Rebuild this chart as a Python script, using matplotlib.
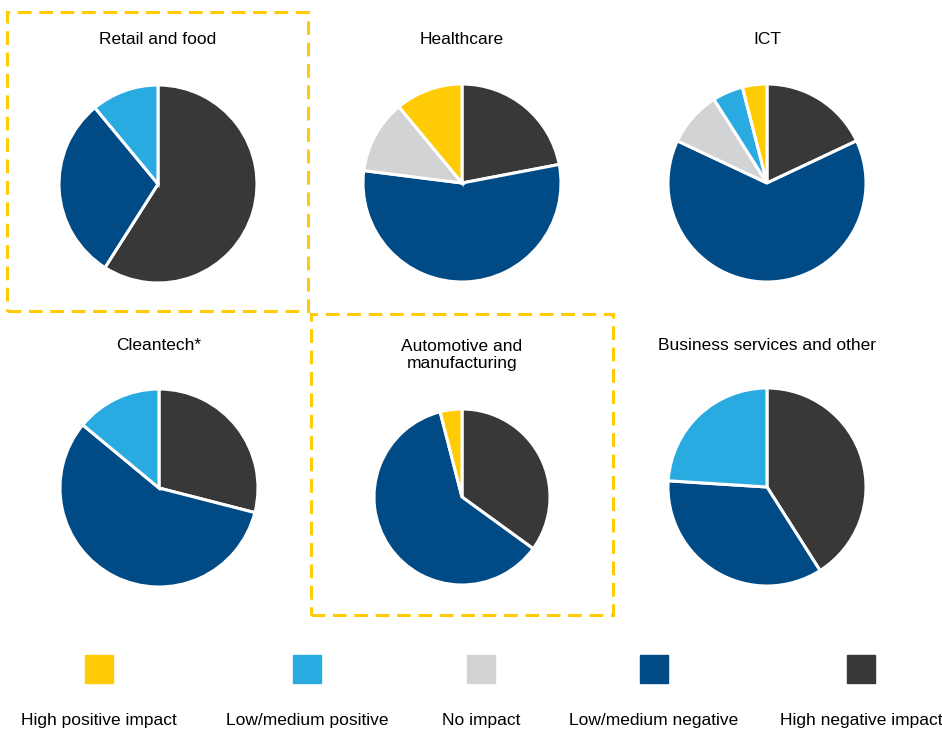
import matplotlib.pyplot as plt
from matplotlib.patches import Rectangle

plt.rcParams['font.family'] = ['Liberation Sans', 'DejaVu Sans']

W, H = 942, 733

categories = ["High positive impact", "Low/medium positive", "No impact",
              "Low/medium negative", "High negative impact"]
colors = ["#FFCB05", "#29ABE2", "#D2D3D5", "#004A85", "#383838"]

sectors = ["Retail and food", "Healthcare", "ICT",
           "Cleantech*", "Automotive and\nmanufacturing", "Business services and other"]

# shares per sector, in the same order as categories (%)
retail = [0, 11, 0, 30, 59]
healthcare = [11, 0, 12, 55, 22]
ict = [4, 5, 9, 64, 18]
cleantech = [0, 14, 0, 57, 29]
automotive = [4, 0, 0, 61, 35]
business = [0, 24, 0, 35, 41]
values = [retail, healthcare, ict, cleantech, automotive, business]

# pie centres, radii and title positions in pixels
centres = [(158, 184), (462, 183), (767, 183), (159, 488), (462, 497), (767, 487)]
radii = [99, 99, 99, 99, 88, 99]
title_y = [40, 40, 40, 346, 355, 346]

fig = plt.figure(figsize=(W / 100, H / 100), dpi=100)

for name, vals, (cx, cy), R, ty in zip(sectors, values, centres, radii, title_y):
    ax = fig.add_axes([(cx - R) / W, 1 - (cy + R) / H, 2 * R / W, 2 * R / H])
    # clockwise from 12 o'clock, starting with the most negative category
    v = [x for x in vals[::-1] if x > 0]
    c = [col for x, col in zip(vals[::-1], colors[::-1]) if x > 0]
    ax.pie(v, colors=c, startangle=90, counterclock=False, radius=1,
           wedgeprops=dict(edgecolor="white", linewidth=2.2))
    ax.set_xlim(-1, 1)
    ax.set_ylim(-1, 1)
    ax.set_aspect("equal")
    ax.axis("off")
    fig.text(cx / W, 1 - ty / H, name, ha="center", va="center",
             fontsize=12.5, linespacing=1.2)

# dashed highlight boxes
for x0, y0, x1, y1 in [(7, 12, 308, 311), (311, 314, 613, 615)]:
    fig.patches.append(Rectangle((x0 / W, 1 - y1 / H), (x1 - x0) / W, (y1 - y0) / H,
                                 transform=fig.transFigure, fill=False,
                                 edgecolor="#FFCB05", linewidth=2.2,
                                 linestyle=(0, (4.5, 2.5))))

# legend
leg_x = [99, 307, 481, 654, 861]
for lx, lab, col in zip(leg_x, categories, colors):
    fig.patches.append(Rectangle(((lx - 14) / W, 1 - 683 / H), 28 / W, 28 / H,
                                 transform=fig.transFigure, color=col))
    fig.text(lx / W, 1 - 721 / H, lab, ha="center", va="center", fontsize=12.5)

fig.savefig("out.png", dpi=100, facecolor="white")
